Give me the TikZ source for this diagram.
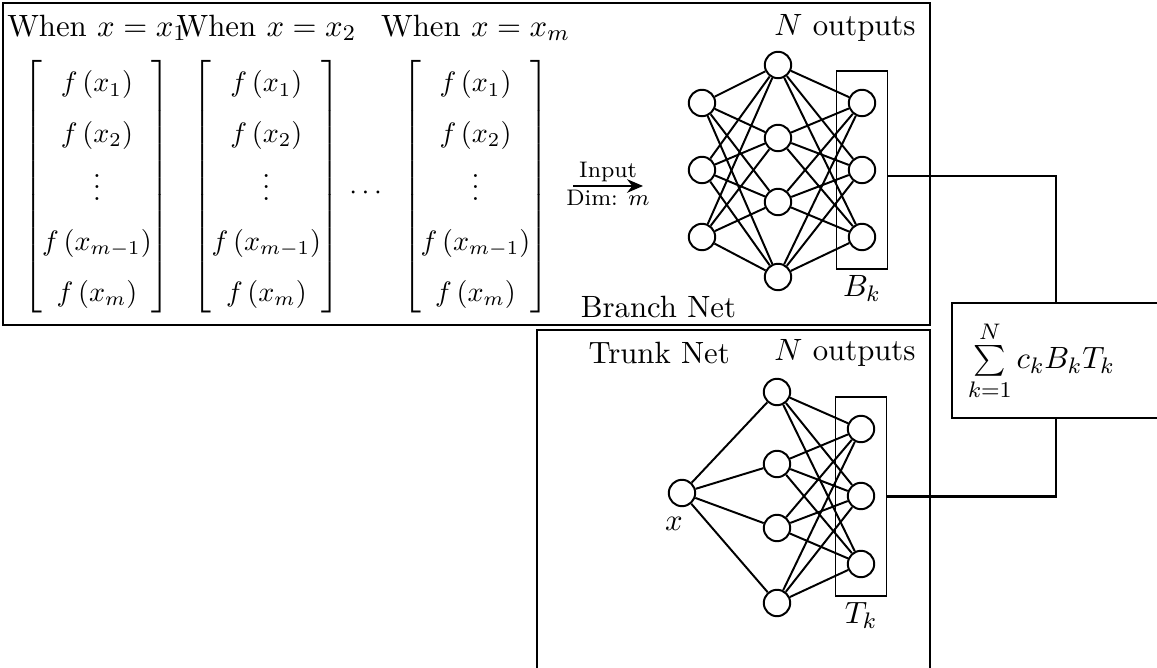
\documentclass[tikz,border=0pt]{standalone}
\usepackage{amsmath}
\usepackage{fontspec}
\usepackage{tikz}
\usetikzlibrary{arrows.meta,fit}
\renewcommand{\arraystretch}{1.5}
\newcommand{\sensorvec}{$\begin{bmatrix}
  f\left(x_1\right)\\ f\left(x_2\right)\\ \vdots\\ f\left(x_{m-1}\right)\\ f\left(x_m\right)
\end{bmatrix}$}

\begin{document}
\begin{tikzpicture}[
  x=1cm, y=1cm,
  lbl/.style={font=\fontsize{10.95}{13.6}\selectfont},
  neuron/.style={
    draw=black, line width=0.7pt, circle, minimum size=0.33cm,
    inner sep=0pt, fill=white
  },
  edge/.style={draw=black, line width=0.7pt},
  outbox/.style={draw=black, semithick, inner xsep=0.14cm, inner ysep=0.22cm},
  frame/.style={draw=black, semithick},
  sumbox/.style={
    draw=black, semithick, minimum width=2.6cm, minimum height=1.4375cm,
    text width=2.2cm, align=left, inner xsep=0.2cm, lbl
  },
  conn/.style={draw=black, thick},
  inarrow/.style={draw=black, semithick, -{Stealth[length=2.0mm,width=1.7mm]}},
  tag/.style={font=\footnotesize, inner sep=1pt}
]
\useasboundingbox (0,0) rectangle (14.4625,8.35);

%% ===================== Frames =====================
\draw[frame] (0.0375,4.2875) rectangle (11.625,8.3125);
\draw[frame] (6.7125,-0.3) rectangle (11.625,4.225);

%% ===================== Sampled inputs =====================
\node[lbl] (w1) at (1.2125,8.0) {When $x=x_1$};
\node[lbl] (w2) at (3.33,8.0)   {When $x=x_2$};
\node[lbl] (w3) at (5.944,8.0)  {When $x=x_m$};
\node (m1) at (1.2125,6.019) {\sensorvec};
\node (m2) at (3.33,6.019)   {\sensorvec};
\node (m3) at (5.944,6.019)  {\sensorvec};
\node (mdots) at (4.6,5.93) {$\cdots$};

\coordinate (ins) at (7.1625,6.025);
\coordinate (ine) at (8.0375,6.025);
\draw[inarrow] (ins) -- node[tag, above] {Input} node[tag, below] {Dim: $m$} (ine);

%% ===================== Branch net =====================
\node[lbl] (bname) at (8.23,4.5125) {Branch Net};
\node[lbl] (bnout) at (10.5625,8.0) {$N$ outputs};

\node[neuron] (bi1) at (8.775,7.0625) {};
\node[neuron] (bi2) at (8.775,6.225)  {};
\node[neuron] (bi3) at (8.775,5.3875) {};
\node[neuron] (bh1) at (9.725,7.5375) {};
\node[neuron] (bh2) at (9.725,6.625)  {};
\node[neuron] (bh3) at (9.725,5.825)  {};
\node[neuron] (bh4) at (9.725,4.8875) {};
\node[neuron] (bo1) at (10.775,7.0625) {};
\node[neuron] (bo2) at (10.775,6.225)  {};
\node[neuron] (bo3) at (10.775,5.3875) {};

\foreach \i in {1,2,3} \foreach \j in {1,...,4} \draw[edge] (bi\i) -- (bh\j);
\foreach \j in {1,...,4} \foreach \k in {1,2,3} \draw[edge] (bh\j) -- (bo\k);

\node[outbox, fit=(bo1)(bo3), label={[lbl, inner sep=2pt]below:$B_k$}] (bk) {};

%% ===================== Trunk net =====================
\node[lbl] (tname) at (8.24,3.94) {Trunk Net};
\node[lbl] (tnout) at (10.5625,3.94) {$N$ outputs};

\node[neuron, label={[lbl, xshift=-1mm]below:$x$}] (tx) at (8.525,2.1875) {};
\node[neuron] (th1) at (9.7125,3.45)   {};
\node[neuron] (th2) at (9.7125,2.55)   {};
\node[neuron] (th3) at (9.7125,1.75)   {};
\node[neuron] (th4) at (9.7125,0.8125) {};
\node[neuron] (to1) at (10.7625,2.9875) {};
\node[neuron] (to2) at (10.7625,2.15)   {};
\node[neuron] (to3) at (10.7625,1.3)    {};

\foreach \j in {1,...,4} \draw[edge] (tx) -- (th\j);
\foreach \j in {1,...,4} \foreach \k in {1,2,3} \draw[edge] (th\j) -- (to\k);

\node[outbox, fit=(to1)(to3), label={[lbl, inner sep=2pt]below:$T_k$}] (tk) {};

%% ===================== Combination =====================
\node[sumbox] (sum) at (13.2,3.844) {$\sum\limits_{k=1}^{N} c_k B_k T_k$};

\draw[conn] ([yshift=-0.75mm]bk.east) -| (sum.north);
\draw[conn] (tk.east) -| (sum.south);

\end{tikzpicture}
\end{document}
